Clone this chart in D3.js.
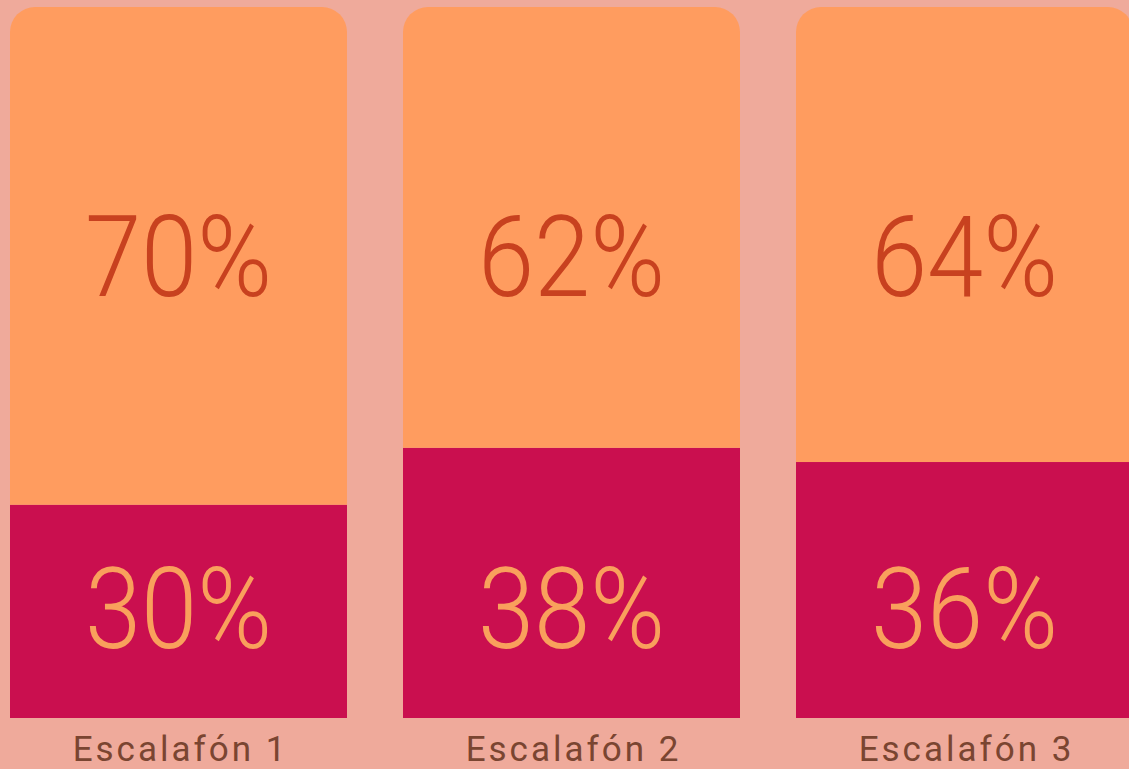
<!DOCTYPE html>
<html>
<head>
<meta charset="utf-8">
<script src="https://cdn.jsdelivr.net/npm/d3@7"></script>
<style>
  html, body { margin: 0; padding: 0; background: #efaa9b; overflow: hidden; }
  svg { display: block; }
</style>
</head>
<body>
<svg width="1129" height="769"></svg>
<script>
// data
const categories = ["Escalafón 1", "Escalafón 2", "Escalafón 3"];
const topValues = [70, 62, 64];
const bottomValues = [30, 38, 36];

const svg = d3.select("svg");

const x = d3.scaleBand()
    .domain(categories)
    .range([10, 1133])
    .paddingInner(56 / 393)
    .paddingOuter(0);

const y = d3.scaleLinear().domain([0, 100]).range([718, 7]);

const r = 25;
// top segment, rounded only on the top corners
const topPath = (x0, x1, y0, y1) => {
    const p = d3.path();
    p.moveTo(x0, y1);
    p.lineTo(x0, y0 + r);
    p.arcTo(x0, y0, x0 + r, y0, r);
    p.lineTo(x1 - r, y0);
    p.arcTo(x1, y0, x1, y0 + r, r);
    p.lineTo(x1, y1);
    p.closePath();
    return p.toString();
};

const rows = categories.map((c, i) => ({ c, top: topValues[i], bottom: bottomValues[i] }));

const g = svg.append("g")
    .selectAll("g")
    .data(rows)
    .enter()
    .append("g");

// bottom (crimson) segment
g.append("rect")
    .attr("x", d => x(d.c))
    .attr("width", x.bandwidth())
    .attr("y", d => y(d.bottom))
    .attr("height", d => y(0) - y(d.bottom))
    .attr("fill", "#ca0f4f");

// top (orange) segment
g.append("path")
    .attr("d", d => topPath(x(d.c), x(d.c) + x.bandwidth(), y(d.bottom + d.top), y(d.bottom)))
    .attr("fill", "#ff9c5f");

const numFont = "Roboto, sans-serif";
const fs = 114;
const capH = 0.711 * fs;

// labels sit at fixed heights in every bar
g.append("text")
    .attr("x", d => x(d.c) + x.bandwidth() / 2)
    .attr("y", y(65) + capH / 2)
    .attr("text-anchor", "middle")
    .attr("font-family", numFont)
    .attr("font-weight", 300)
    .attr("font-size", fs)
    .attr("textLength", 187)
    .attr("lengthAdjust", "spacingAndGlyphs")
    .attr("fill", "#c8411f")
    .text(d => d.top + "%");

g.append("text")
    .attr("x", d => x(d.c) + x.bandwidth() / 2)
    .attr("y", y(15.5) + capH / 2)
    .attr("text-anchor", "middle")
    .attr("font-family", numFont)
    .attr("font-weight", 300)
    .attr("font-size", fs)
    .attr("textLength", 187)
    .attr("lengthAdjust", "spacingAndGlyphs")
    .attr("fill", "#f9a05c")
    .text(d => d.bottom + "%");

// category labels
g.append("text")
    .attr("x", d => x(d.c) + x.bandwidth() / 2 + 2)
    .attr("y", 761)
    .attr("text-anchor", "middle")
    .attr("font-family", "Roboto, sans-serif")
    .attr("font-size", 35)
    .attr("letter-spacing", 3)
    .attr("fill", "#7a4531")
    .text(d => d.c);
</script>
</body>
</html>
